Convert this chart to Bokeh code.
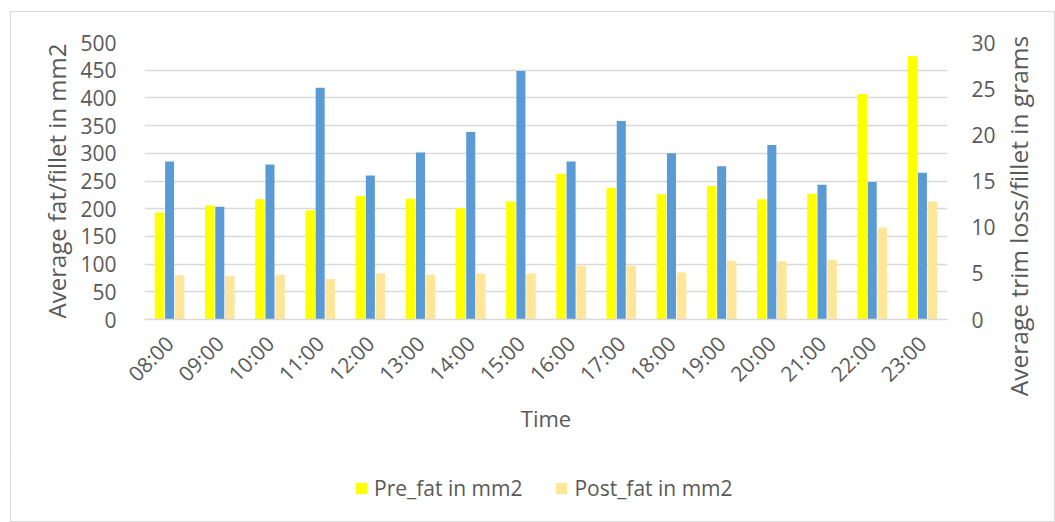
from bokeh.plotting import figure
from bokeh.models import (FactorRange, Range1d, LinearAxis, FixedTicker, Legend, LegendItem,
                          ColumnDataSource)
from bokeh.layouts import column, row
from bokeh.transform import dodge
from bokeh.embed import file_html
from bokeh.resources import INLINE
import math

times = ["08:00", "09:00", "10:00", "11:00", "12:00", "13:00", "14:00", "15:00",
         "16:00", "17:00", "18:00", "19:00", "20:00", "21:00", "22:00", "23:00"]
pre_fat = [193, 206, 217, 197, 223, 218, 201, 213, 263, 238, 226, 241, 217, 227, 407, 475]
trim_loss = [17.1, 12.2, 16.8, 25.1, 15.6, 18.1, 20.3, 26.9, 17.1, 21.5, 18.0, 16.6, 18.9, 14.6, 14.9, 15.9]
post_fat = [80, 79, 81, 73, 83, 81, 83, 83, 97, 97, 85, 106, 105, 108, 166, 213]

left_ticks = list(range(0, 501, 50))
right_ticks = list(range(0, 31, 5))

src = ColumnDataSource(dict(time=times, pre=pre_fat, trim=trim_loss, post=post_fat))

FONT = "Open Sans"
GRAY = "#595959"
YELLOW = "#FFFF00"
BLUE = "#5B9BD5"
PEACH = "#FFE699"

# ---------------- main chart ----------------
p = figure(x_range=FactorRange(*times), y_range=Range1d(0, 500),
           width=987, height=440,
           output_backend="svg", toolbar_location=None,
           min_border_left=133, min_border_right=49, min_border_top=30, min_border_bottom=133)
p.extra_y_ranges = {"right": Range1d(0, 30)}
p.outline_line_color = None
p.x_range.range_padding = 0
p.x_range.group_padding = 0

r_pre = p.vbar(x=dodge("time", -0.2, range=p.x_range), top="pre", width=0.19, source=src,
               fill_color=YELLOW, line_color=None)
r_trim = p.vbar(x=dodge("time", 0.0, range=p.x_range), top="trim", width=0.18, source=src,
                fill_color=BLUE, line_color=None, y_range_name="right")
r_post = p.vbar(x=dodge("time", 0.2, range=p.x_range), top="post", width=0.19, source=src,
                fill_color=PEACH, line_color=None)

p.xgrid.grid_line_color = None
p.ygrid.grid_line_color = "#d9d9d9"
p.ygrid.grid_line_width = 1.3
p.yaxis.ticker = FixedTicker(ticks=left_ticks)

ra = LinearAxis(y_range_name="right", ticker=FixedTicker(ticks=right_ticks))
p.add_layout(ra, "right")

for ax in [p.yaxis[0], ra]:
    ax.axis_line_color = None
    ax.major_tick_line_color = None
    ax.minor_tick_line_color = None
    ax.major_label_text_font = FONT
    ax.major_label_text_font_size = "21px"
    ax.major_label_text_color = GRAY

ya = p.yaxis[0]
ya.axis_label = "Average fat/fillet in mm2"
ya.axis_label_text_font = FONT
ya.axis_label_text_font_size = "24px"
ya.axis_label_text_font_style = "normal"
ya.axis_label_text_color = GRAY
ya.major_label_standoff = 22
ya.axis_label_standoff = 4
ra.major_label_standoff = 18

xa = p.xaxis[0]
xa.axis_label = "Time"
xa.axis_line_color = "#d9d9d9"
xa.axis_line_width = 1.5
xa.major_tick_line_color = None
xa.minor_tick_line_color = None
xa.major_label_orientation = math.pi / 4
xa.major_label_text_font = FONT
xa.major_label_text_font_size = "21px"
xa.major_label_text_color = GRAY
xa.major_label_standoff = 14
xa.axis_label_text_font = FONT
xa.axis_label_text_font_size = "22px"
xa.axis_label_text_font_style = "normal"
xa.axis_label_text_color = GRAY
xa.axis_label_standoff = 3

# ---------------- right axis title (reads bottom to top) ----------------
p2 = figure(width=56, height=440, x_range=Range1d(0, 1), y_range=Range1d(0, 1),
            output_backend="svg", toolbar_location=None, x_axis_location=None,
            min_border_left=0, min_border_right=0, min_border_top=30, min_border_bottom=133)
p2.outline_line_color = None
p2.grid.visible = False
a2 = p2.yaxis[0]
a2.ticker = FixedTicker(ticks=[])
a2.axis_line_color = None
a2.major_tick_line_color = None
a2.minor_tick_line_color = None
a2.major_tick_out = 0
a2.major_label_standoff = 0
a2.major_label_text_font_size = "0px"
# trailing no-break spaces shift the visible words down, as in the reference
a2.axis_label = "Average trim loss/fillet in grams" + "\u00a0" * 11
a2.axis_label_text_font = FONT
a2.axis_label_text_font_size = "24.5px"
a2.axis_label_text_font_style = "normal"
a2.axis_label_text_color = GRAY
a2.axis_label_standoff = 0

# ---------------- legend strip ----------------
pl = figure(width=1043, height=69, x_range=Range1d(0, 1), y_range=Range1d(0, 1),
            output_backend="svg", toolbar_location=None,
            x_axis_location=None, y_axis_location=None, min_border=0)
pl.outline_line_color = None
pl.grid.visible = False
# off-frame, zero-size proxies so the legend can show the series swatches
d_pre = pl.vbar(x=-1, top="pre", bottom="pre", width=0, source=src,
                fill_color=YELLOW, line_color=None)
d_post = pl.vbar(x=-1, top="post", bottom="post", width=0, source=src,
                 fill_color=PEACH, line_color=None)
legend = Legend(items=[LegendItem(label="Pre_fat in mm2", renderers=[d_pre]),
                       LegendItem(label="Post_fat in mm2", renderers=[d_post])],
                orientation="horizontal", location=(343, 19),
                label_text_font=FONT, label_text_font_size="21px", label_text_color=GRAY,
                glyph_width=14, glyph_height=14, spacing=32, padding=0, margin=0,
                border_line_color=None, background_fill_alpha=0, label_standoff=6)
pl.add_layout(legend, "center")

layout = column(row(p, p2, spacing=0), pl, spacing=0, margin=(11, 0, 0, 10))
layout.styles = {"border": "1px solid #d9d9d9"}

open("out.html", "w").write(file_html(layout, INLINE))
